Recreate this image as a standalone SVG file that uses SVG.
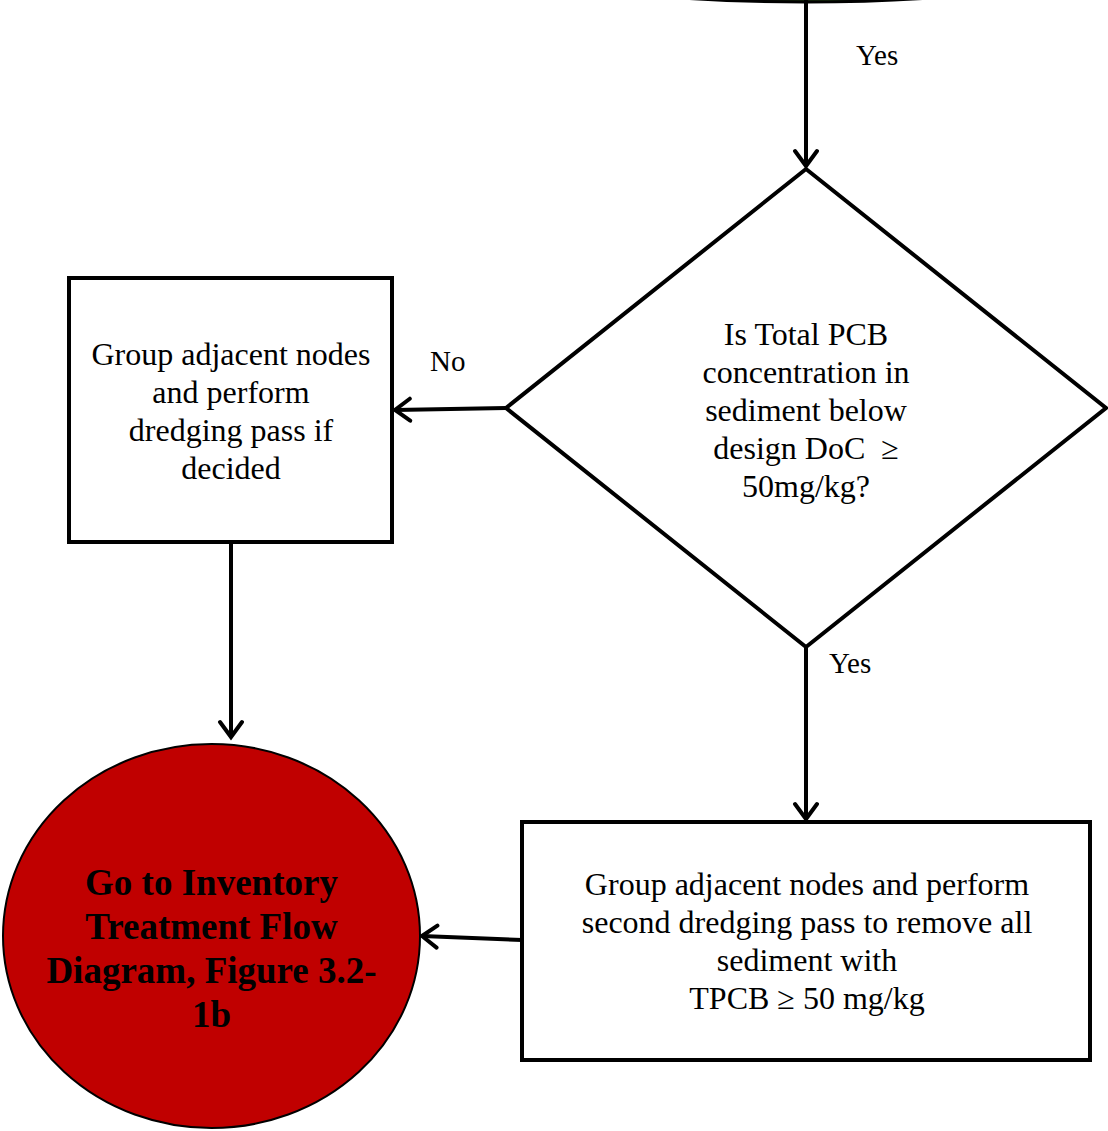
<svg xmlns="http://www.w3.org/2000/svg" width="1108" height="1131" viewBox="0 0 1108 1131">
<defs>
<style>
.shape{fill:#fff;stroke:#000;stroke-width:4;stroke-linejoin:miter}
.edge{fill:none;stroke:#000;stroke-width:4}
.t{font-family:"Liberation Serif","Times New Roman",serif;font-size:32px;fill:#000;text-anchor:middle}
.lbl{font-family:"Liberation Serif","Times New Roman",serif;font-size:29px;fill:#000}
.b{font-family:"Liberation Serif","Times New Roman",serif;font-size:37px;font-weight:bold;fill:#000;text-anchor:middle}
</style>
<marker id="arr" markerUnits="userSpaceOnUse" markerWidth="30" markerHeight="30" viewBox="0 0 30 30" refX="19" refY="13" orient="auto">
<path d="M4,2 L19,13 L4,24" fill="none" stroke="#000" stroke-width="4" stroke-linecap="round" stroke-linejoin="miter"/>
</marker>
</defs>
<rect width="1108" height="1131" fill="#fff"/>

<g id="start">
<ellipse cx="806" cy="-298" rx="760" ry="300" fill="#1e3a10" stroke="#000" stroke-width="3"/>
</g>

<g id="connectors">
<line class="edge" x1="806" y1="0" x2="806" y2="166" marker-end="url(#arr)"/>
<line class="edge" x1="506" y1="408" x2="395" y2="410" marker-end="url(#arr)"/>
<line class="edge" x1="231" y1="543" x2="231" y2="737" marker-end="url(#arr)"/>
<line class="edge" x1="806" y1="648" x2="806" y2="819" marker-end="url(#arr)"/>
<line class="edge" x1="522" y1="940" x2="422" y2="936" marker-end="url(#arr)"/>
<text class="lbl" x="856" y="65">Yes</text>
<text class="lbl" x="430" y="371">No</text>
<text class="lbl" x="829" y="673">Yes</text>
</g>

<g id="decision">
<polygon class="shape" points="806,169 1106,408 806,647 506,408"/>
<text class="t" x="806" y="345">Is Total PCB</text>
<text class="t" x="806" y="383">concentration in</text>
<text class="t" x="806" y="421">sediment below</text>
<text class="t" x="806" y="459">design DoC&#160; ≥</text>
<text class="t" x="806" y="497">50mg/kg?</text>
</g>

<g id="group-pass">
<rect class="shape" x="69" y="278" width="323" height="264"/>
<text class="t" x="231" y="365">Group adjacent nodes</text>
<text class="t" x="231" y="403">and perform</text>
<text class="t" x="231" y="441">dredging pass if</text>
<text class="t" x="231" y="479">decided</text>
</g>

<g id="second-pass">
<rect class="shape" x="522" y="822" width="568" height="238"/>
<text class="t" x="807" y="895">Group adjacent nodes and perform</text>
<text class="t" x="807" y="933">second dredging pass to remove all</text>
<text class="t" x="807" y="971">sediment with</text>
<text class="t" x="807" y="1009">TPCB ≥ 50 mg/kg</text>
</g>

<g id="goto-inventory">
<ellipse cx="211.5" cy="936" rx="208.5" ry="192" fill="#c00000" stroke="#000" stroke-width="2"/>
<text class="b" x="211.5" y="895">Go to Inventory</text>
<text class="b" x="211.5" y="939">Treatment Flow</text>
<text class="b" x="211.5" y="983">Diagram, Figure 3.2-</text>
<text class="b" x="211.5" y="1027">1b</text>
</g>
</svg>
